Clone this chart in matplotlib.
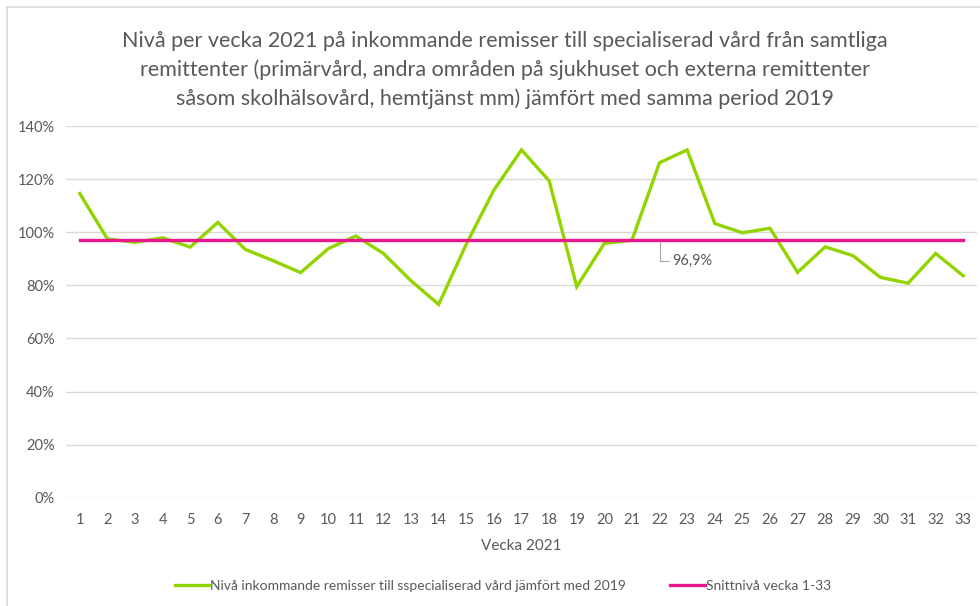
"""nivå inkommande remisser per vecka 2021"""
import matplotlib
matplotlib.use('Agg')
import matplotlib.pyplot as plt
from matplotlib.lines import Line2D
from matplotlib.ticker import FuncFormatter

plt.rcParams['font.family'] = ['Lato', 'DejaVu Sans']

veckor = list(range(1, 34))
niva = [114.6, 97.5, 96.2, 97.9, 94.4, 103.7, 93.5, 89.3, 84.8, 93.8,
        98.6, 92.0, 81.7, 72.8, 95.5, 115.9, 131.0, 119.4, 79.5, 95.8,
        97.0, 126.2, 131.0, 103.3, 99.8, 101.5, 84.9, 94.5, 91.2, 83.0,
        80.8, 92.0, 83.6]
snitt = 96.9
titel = ('Nivå per vecka 2021 på inkommande remisser till specialiserad vård från samtliga\n'
         'remittenter (primärvård, andra områden på sjukhuset och externa remittenter\n'
         'såsom skolhälsovård, hemtjänst mm) jämfört med samma period 2019')
etikett_gron = 'Nivå inkommande remisser till sspecialiserad vård jämfört med 2019'
etikett_rosa = 'Snittnivå vecka 1-33'

GRON = '#92D400'
ROSA = '#E6168C'
GRA = '#595959'

fig = plt.figure(figsize=(9.8, 6.06), dpi=100)
ax = fig.add_axes([0.0673, 0.1787, 0.9297, 0.6133])

ax.plot(veckor, niva, color=GRON, lw=2.4, solid_joinstyle='miter', zorder=3)
ax.plot(veckor, [snitt] * len(veckor), color=ROSA, lw=2.4, zorder=4)

ax.set_xlim(0.5, 33.5)
ax.set_ylim(0, 140)
ax.set_yticks(range(0, 141, 20))
ax.yaxis.set_major_formatter(FuncFormatter(lambda v, p: f'{v:.0f}%'))
ax.set_xticks(veckor)
ax.grid(axis='y', color='#D9D9D9', lw=1)
ax.set_axisbelow(True)
for s in ax.spines.values():
    s.set_visible(False)
ax.tick_params(length=0, colors=GRA, labelsize=10.5)
ax.tick_params(axis='y', pad=8)
ax.tick_params(axis='x', pad=11)
ax.set_xlabel('Vecka 2021', color=GRA, fontsize=11, labelpad=9)

# etikett för snittlinjen vid vecka 22
ax.annotate(f'{snitt:.1f}%'.replace('.', ','), xy=(22, snitt),
            xytext=(9.5, -15), textcoords='offset points', color=GRA,
            fontsize=10.5, ha='left', va='center',
            arrowprops=dict(arrowstyle='-', color='#A6A6A6', lw=0.8,
                            connectionstyle='angle,angleA=0,angleB=90,rad=0',
                            shrinkA=1, shrinkB=0))

fig.text(0.515, 0.884, titel, ha='center', va='center', fontsize=15.5,
         color=GRA, linespacing=1.5)

handles = [Line2D([], [], color=GRON, lw=2.4), Line2D([], [], color=ROSA, lw=2.4)]
fig.legend(handles, [etikett_gron, etikett_rosa], loc='center',
           bbox_to_anchor=(0.513, 0.033), ncol=2, frameon=False, fontsize=10,
           handlelength=2.5, handletextpad=0.05, columnspacing=3.2,
           labelcolor=GRA)

# ram runt diagramytan
fig.add_artist(Line2D([0.0075, 0.0075], [0, 0.988], color='#D9D9D9', lw=1.2))
fig.add_artist(Line2D([0.0075, 1.0], [0.988, 0.988], color='#D9D9D9', lw=1.2))

fig.savefig('out.png', dpi=100, facecolor='white')
